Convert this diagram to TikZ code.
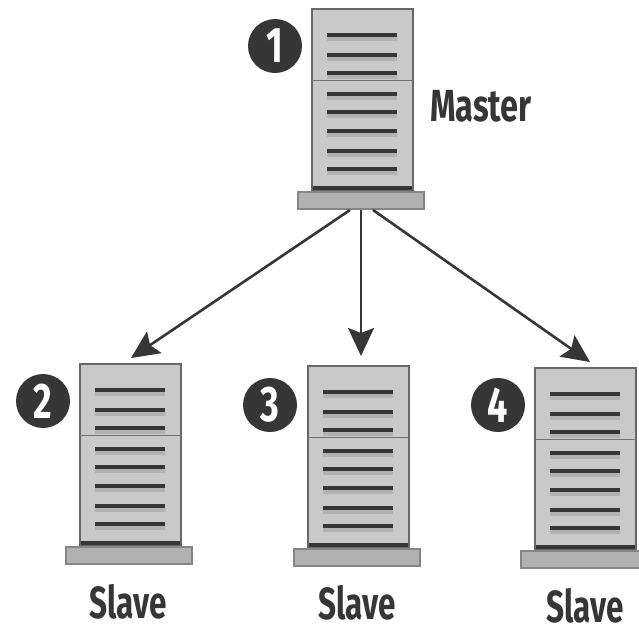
\documentclass[tikz,border=0pt]{standalone}
\usepackage{fontspec}
\setmainfont{Fira Sans}
\usepackage{tikz}
\usetikzlibrary{arrows.meta,positioning,calc}
\definecolor{rackgray}{HTML}{C9C9C9}
\definecolor{inkgray}{HTML}{363636}
\tikzset{
  rack/.style={draw=inkgray!75, line width=1.6pt, fill=rackgray, minimum width=101pt, minimum height=181pt, inner sep=0pt, outer sep=0pt, anchor=north west},
  rackbase/.style={draw=inkgray!60, line width=1.6pt, fill=rackgray!88!black, minimum width=126pt, minimum height=17pt, inner sep=0pt, outer sep=0pt, anchor=north west},
  badge/.style={circle, fill=inkgray, minimum width=54pt, inner sep=0pt, text=white, font=\fontsize{50}{50}\selectfont\bfseries},
  rolename/.style={text=inkgray, inner sep=0pt, font=\fontsize{45}{45}\selectfont\bfseries, xscale=0.7},
  feed/.style={draw=inkgray, line width=2.6pt, -{Stealth[length=28pt,width=26pt,inset=5pt]}},
}
\newcommand{\serverrack}[3]{
\node[rack] (#1) at (#2,#3){};
\draw[inkgray, line width=4pt] ($(#1.south west)+(1,-2)$) -- ($(#1.south east)+(-1,-2)$);
\draw[inkgray!70, line width=1pt] ($(#1.north west)+(0,71)$) -- ($(#1.north east)+(0,71)$);
\foreach \yy in {26,46,64,85,103,122,142,160}{
\draw[gray!60, line width=4pt] ($(#1.north west)+(15,\yy+4)$) -- ($(#1.north west)+(85,\yy+4)$);
\draw[inkgray, line width=3.6pt] ($(#1.north west)+(15,\yy)$) -- ($(#1.north west)+(85,\yy)$);
}
\node[rackbase] (#1base) at ($(#1.north west)+(-14,183)$){};
}
\newcommand{\badgedigit}[1]{\scalebox{0.72}[1]{#1}}
\begin{document}
\begin{tikzpicture}[x=1pt,y=-1pt]
\useasboundingbox (0,0) rectangle (639,627);
\serverrack{master}{312}{9}
\serverrack{slavea}{80}{364}
\serverrack{slaveb}{308}{366}
\serverrack{slavec}{535}{368}
\node[badge] (one) at (275,46){\badgedigit{1}};
\node[badge] (two) at (43,401){\badgedigit{2}};
\node[badge] (three) at (270,405){\badgedigit{3}};
\node[badge] (four) at (498,405){\badgedigit{4}};
\node[rolename, xscale=1.03] (mastername) at (481,106){Master};
\node[rolename] (slaveaname) at (128,602){Slave};
\node[rolename] (slavebname) at (357,603){Slave};
\node[rolename] (slavecname) at (585,606){Slave};
\coordinate (feeda) at (350,210);
\coordinate (feedb) at (361,210);
\coordinate (feedc) at (373,210);
\coordinate (enda) at (131,358);
\coordinate (endb) at (361,356);
\coordinate (endc) at (590,362);
\draw[feed] (feeda) -- (enda);
\draw[feed] (feedb) -- (endb);
\draw[feed] (feedc) -- (endc);
\end{tikzpicture}
\end{document}
